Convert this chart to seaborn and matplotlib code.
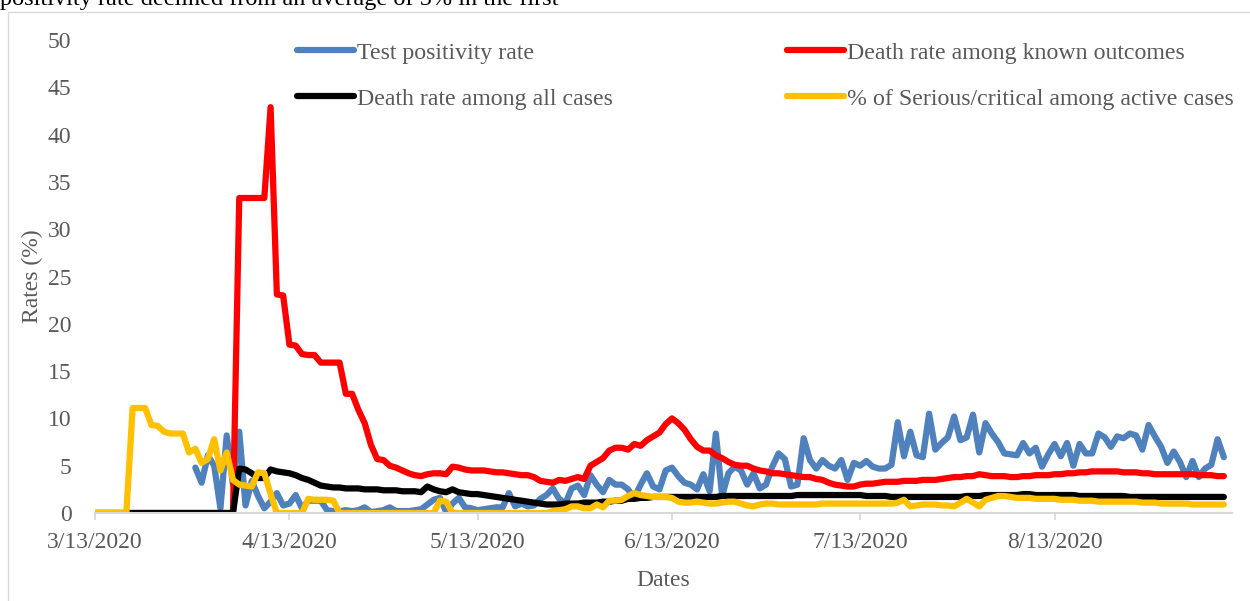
import numpy as np
import pandas as pd
import matplotlib
matplotlib.use('Agg')
import matplotlib.pyplot as plt
import seaborn as sns
from matplotlib.patches import Rectangle

# daily values from 3/13/2020 to 9/9/2020 (181 days)
start_date = '2020-03-13'
n_days = 181

series_names = ['Test positivity rate',
                'Death rate among known outcomes',
                'Death rate among all cases',
                '% of Serious/critical among active cases']
series_colors = ['#4F81BD', '#FF0000', '#000000', '#FFC000']

nan = np.nan
test_positivity = [nan] * 16 + [
    4.8, 3.2, 6.1, 5.0,
    0.5, 8.2, 3.0, 8.6, 0.8, 3.4, 1.8, 0.5, 1.2, 2.1,
    0.8, 1.0, 1.9, 0.5, 1.3, 1.3, 1.3, 0.3, 0.2, 0.2,
    0.3, 0.2, 0.3, 0.6, 0.1, 0.2, 0.3, 0.6, 0.2, 0.2,
    0.2, 0.3, 0.4, 0.9, 1.4, 1.6, 0.1, 1.0, 1.6, 0.6,
    0.5, 0.3, 0.4, 0.5, 0.6, 0.6, 2.1, 0.7, 1.0, 0.7,
    0.8, 1.5, 1.9, 2.6, 1.5, 1.0, 2.6, 2.9, 1.9, 4.0,
    3.0, 2.2, 3.5, 3.0, 3.0, 2.5, 1.6, 3.0, 4.2, 2.8,
    2.5, 4.5, 4.8, 3.9, 3.2, 3.0, 2.5, 4.1, 2.3, 8.4,
    1.8, 4.2, 4.9, 4.5, 3.0, 4.2, 2.6, 3.0, 4.9, 6.3,
    5.7, 2.8, 3.0, 7.9, 5.6, 4.7, 5.6, 5.0, 4.7, 5.6,
    3.5, 5.3, 5.0, 5.5, 4.9, 4.7, 4.7, 5.1, 9.6, 6.0,
    8.6, 6.1, 5.9, 10.5, 6.7, 7.4, 8.0, 10.2, 7.7, 8.0,
    10.4, 6.4, 9.5, 8.4, 7.5, 6.3, 6.2, 6.1, 7.4, 6.3,
    6.9, 4.9, 6.2, 7.3, 6.0, 7.4, 5.0, 7.3, 6.3, 6.3,
    8.4, 8.0, 7.0, 8.1, 7.9, 8.4, 8.2, 6.7, 9.3, 8.1,
    7.0, 5.3, 6.5, 5.4, 3.8, 5.5, 3.8, 4.7, 5.1, 7.8, 5.9]

death_known = [0.0] * 23 + [
    33.3, 33.3, 33.3, 33.3, 33.3, 42.9, 23.1,
    23.0, 17.8, 17.7, 16.8, 16.7, 16.7, 15.9, 15.9, 15.9, 15.9,
    12.6, 12.6, 10.9, 9.5, 7.2, 5.7, 5.6, 5.0, 4.8, 4.5,
    4.2, 4.0, 3.9, 4.1, 4.2, 4.2, 4.1, 4.9, 4.8, 4.6,
    4.5, 4.5, 4.5, 4.4, 4.3, 4.3, 4.2, 4.1, 4.0, 4.0,
    3.8, 3.4, 3.3, 3.2, 3.5, 3.4, 3.6, 3.8, 3.6, 5.0,
    5.4, 5.8, 6.6, 6.9, 6.9, 6.7, 7.3, 7.1, 7.7, 8.1,
    8.5, 9.4, 10.0, 9.5, 8.8, 7.8, 7.0, 6.6, 6.6, 6.1,
    5.8, 5.4, 5.1, 5.0, 5.0, 4.7, 4.5, 4.4, 4.2, 4.2,
    4.1, 4.0, 3.9, 3.8, 3.8, 3.6, 3.5, 3.2, 3.0, 2.9,
    2.8, 2.8, 3.0, 3.1, 3.1, 3.2, 3.3, 3.3, 3.3, 3.4,
    3.4, 3.4, 3.5, 3.5, 3.5, 3.6, 3.7, 3.8, 3.8, 3.9,
    3.9, 4.1, 4.0, 3.9, 3.9, 3.9, 3.8, 3.8, 3.9, 3.9,
    4.0, 4.0, 4.0, 4.1, 4.1, 4.2, 4.2, 4.3, 4.3, 4.4,
    4.4, 4.4, 4.4, 4.4, 4.3, 4.3, 4.3, 4.2, 4.2, 4.1,
    4.1, 4.1, 4.1, 4.1, 4.1, 4.1, 4.0, 4.0, 4.0, 3.9, 3.9]

death_all = [0.0] * 23 + [
    4.7, 4.6, 4.2, 3.7, 3.7, 4.6, 4.4,
    4.3, 4.2, 4.0, 3.7, 3.5, 3.2, 2.9, 2.8, 2.7, 2.7,
    2.6, 2.6, 2.6, 2.5, 2.5, 2.5, 2.4, 2.4, 2.4, 2.3,
    2.3, 2.3, 2.2, 2.8, 2.5, 2.3, 2.2, 2.5, 2.2, 2.1,
    2.0, 2.0, 1.9, 1.8, 1.7, 1.6, 1.5, 1.4, 1.3, 1.2,
    1.1, 1.0, 0.9, 0.9, 0.9, 1.0, 1.0, 1.0, 1.1, 1.1,
    1.1, 1.2, 1.2, 1.3, 1.3, 1.5, 1.5, 1.6, 1.6, 1.7,
    1.7, 1.7, 1.7, 1.7, 1.7, 1.7, 1.7, 1.7, 1.7, 1.7,
    1.8, 1.8, 1.8, 1.8, 1.8, 1.8, 1.8, 1.8, 1.8, 1.8,
    1.8, 1.8, 1.9, 1.9, 1.9, 1.9, 1.9, 1.9, 1.9, 1.9,
    1.9, 1.9, 1.9, 1.8, 1.8, 1.8, 1.8, 1.7, 1.7, 1.7,
    1.7, 1.7, 1.7, 1.7, 1.7, 1.7, 1.7, 1.7, 1.7, 1.8,
    1.8, 1.8, 1.9, 1.9, 1.9, 1.9, 1.9, 1.9, 2.0, 2.0,
    1.9, 1.9, 1.9, 1.9, 1.9, 1.9, 1.9, 1.8, 1.8, 1.8,
    1.8, 1.8, 1.8, 1.8, 1.8, 1.7, 1.7, 1.7, 1.7, 1.7,
    1.7, 1.7, 1.7, 1.7, 1.7, 1.7, 1.7, 1.7, 1.7, 1.7, 1.7]

serious_critical = [0.0] * 6 + [
    11.1, 11.1, 11.1, 9.3,
    9.2, 8.6, 8.4, 8.4, 8.4, 6.4, 6.8, 5.3, 5.7, 7.8,
    4.5, 6.4, 3.5, 3.0, 2.9, 2.8, 4.3, 4.2, 2.0, 0.0,
    0.0, 0.0, 0.0, 0.0, 1.5, 1.4, 1.4, 1.4, 1.3, 0.0,
    0.0, 0.0, 0.0, 0.0, 0.0, 0.0, 0.0, 0.0, 0.0, 0.0,
    0.0, 0.0, 0.0, 0.0, 0.0, 1.3, 1.2, 0.0, 0.0, 0.0,
    0.0, 0.0, 0.0, 0.0, 0.0, 0.0, 0.0, 0.0, 0.0, 0.0,
    0.0, 0.0, 0.0, 0.2, 0.3, 0.4, 0.7, 0.7, 0.5, 0.5,
    0.9, 0.6, 1.3, 1.3, 1.4, 1.8, 2.1, 1.9, 1.8, 1.7,
    1.7, 1.7, 1.6, 1.2, 1.1, 1.1, 1.2, 1.1, 1.0, 1.0,
    1.1, 1.2, 1.2, 1.0, 0.8, 0.7, 0.9, 1.0, 1.0, 0.9,
    0.9, 0.9, 0.9, 0.9, 0.9, 0.9, 1.0, 1.0, 1.0, 1.0,
    1.0, 1.0, 1.0, 1.0, 1.0, 1.0, 1.0, 1.0, 1.1, 1.4,
    0.7, 0.8, 0.9, 0.9, 0.9, 0.8, 0.8, 0.7, 1.1, 1.5,
    1.1, 0.7, 1.4, 1.6, 1.8, 1.8, 1.7, 1.6, 1.6, 1.6,
    1.5, 1.5, 1.5, 1.5, 1.4, 1.4, 1.4, 1.3, 1.3, 1.3,
    1.2, 1.2, 1.2, 1.2, 1.2, 1.2, 1.2, 1.1, 1.1, 1.1,
    1.0, 1.0, 1.0, 1.0, 1.0, 0.9, 0.9, 0.9, 0.9, 0.9, 0.9]

tick_dates = ['2020-03-13', '2020-04-13', '2020-05-13',
              '2020-06-13', '2020-07-13', '2020-08-13']
tick_labels = ['3/13/2020', '4/13/2020', '5/13/2020',
               '6/13/2020', '7/13/2020', '8/13/2020']
y_ticks = [0, 5, 10, 15, 20, 25, 30, 35, 40, 45, 50]

top_text = 'positivity rate declined from an average of 5% in the first'

# build long table for seaborn
dates = pd.date_range(start_date, periods=n_days)
wide = pd.DataFrame({'Date': dates,
                     series_names[0]: test_positivity,
                     series_names[1]: death_known,
                     series_names[2]: death_all,
                     series_names[3]: serious_critical})
df = wide.melt(id_vars='Date', var_name='Series', value_name='Rate').dropna()

sns.set_theme(style='white')
plt.rcParams['font.family'] = ['Liberation Serif', 'DejaVu Serif']
grey = '#595959'

fig = plt.figure(figsize=(12.5, 6.01), dpi=100)
ax = fig.add_axes([0.076, 0.1464, 0.9096, 0.787])

sns.lineplot(data=df, x='Date', y='Rate', hue='Series', hue_order=series_names,
             palette=dict(zip(series_names, series_colors)), estimator=None,
             linewidth=4.5, solid_joinstyle='round', ax=ax)

ax.set_xlim(dates[0], dates[0] + pd.Timedelta(days=181.3))
ax.set_ylim(0, 50)
ax.set_yticks(y_ticks)
ax.set_xticks(pd.to_datetime(tick_dates), labels=tick_labels)

for s in ['left', 'top', 'right']:
    ax.spines[s].set_visible(False)
ax.spines['bottom'].set_color('#d9d9d9')
ax.spines['bottom'].set_linewidth(1.5)

ax.tick_params(axis='x', bottom=True, length=5, width=1.3, color='#d9d9d9',
               direction='out', pad=9, labelsize=17, labelcolor=grey)
ax.tick_params(axis='y', left=False, length=0, pad=17, labelsize=17, labelcolor=grey)

ax.set_xlabel('Dates', fontsize=17, color=grey)
ax.set_ylabel('Rates (%)', fontsize=17, color=grey)
ax.xaxis.set_label_coords(0.5, -0.143)
ax.xaxis.label.set_verticalalignment('center')
ax.yaxis.set_label_coords(-0.055, 0.5)
ax.yaxis.label.set_verticalalignment('center')

# legend: row 1 blue/red, row 2 black/yellow
handles, labels = ax.get_legend_handles_labels()
order = [0, 2, 1, 3]
leg = ax.legend([handles[i] for i in order], [labels[i] for i in order],
                ncol=2, frameon=False, loc='upper left',
                bbox_to_anchor=(297 / 1250, 1 - 42 / 601),
                bbox_transform=fig.transFigure,
                fontsize=17.2, handlelength=2.4, handletextpad=0.1,
                columnspacing=7.3, labelspacing=1.02, borderpad=0, borderaxespad=0)
for t in leg.get_texts():
    t.set_color(grey)
for h in leg.get_lines():
    h.set_linewidth(4.5)
    h.set_solid_capstyle('round')

# chart border and the clipped document text above it
fig.add_artist(Rectangle((8 / 1250, -0.05), 1.2, 1 - 12 / 601 + 0.05,
                         transform=fig.transFigure, fill=False,
                         edgecolor='#d9d9d9', linewidth=1))
fig.text(0.0, 1 - 5 / 601, top_text, ha='left', va='baseline',
         fontsize=17.5, color='black')

fig.savefig('out.png', dpi=100)
